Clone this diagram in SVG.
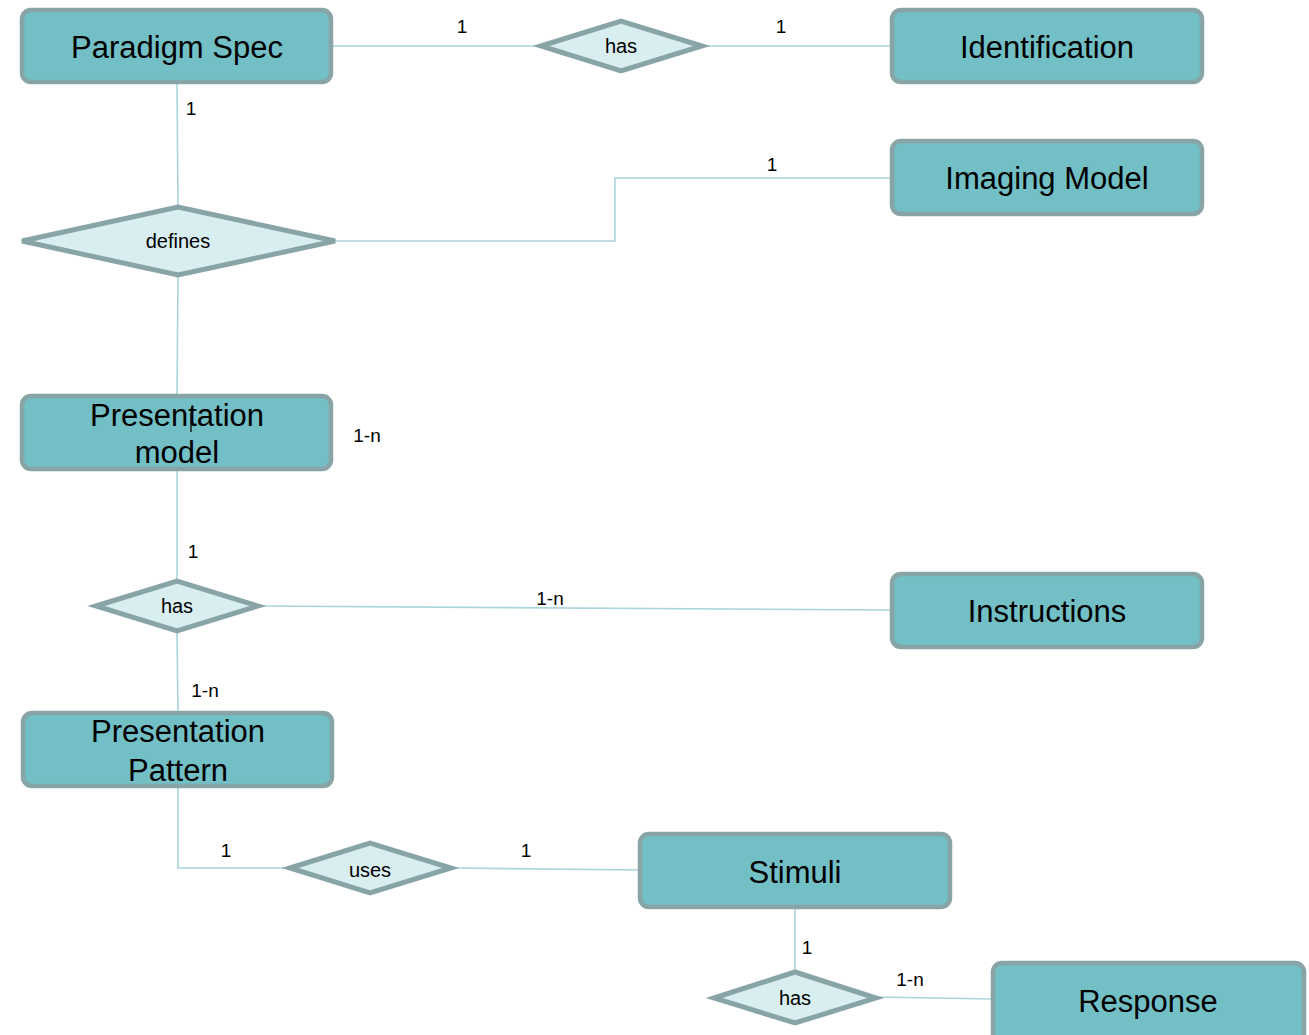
<svg xmlns="http://www.w3.org/2000/svg" width="1309" height="1035" viewBox="0 0 1309 1035">
<style>
.ent{fill:#72bfc5;stroke:#88a4a6;stroke-width:4.5}
.rel{fill:#d9eef0;stroke:#88a4a6;stroke-width:5;stroke-linejoin:miter}
.big{font-family:"Liberation Sans",Arial,sans-serif;font-size:31px;fill:#000;text-anchor:middle}
.sm{font-family:"Liberation Sans",Arial,sans-serif;font-size:20px;fill:#000;text-anchor:middle}
.lbl{font-family:"Liberation Sans",Arial,sans-serif;font-size:19px;fill:#000;text-anchor:middle}
.con{fill:none;stroke:#a9d6db;stroke-width:1.6}
</style>
<rect width="1309" height="1035" fill="#fff"/>
<g id="connectors">
<path class="con" d="M331,46 H540"/>
<path class="con" d="M703,46 H892"/>
<path class="con" d="M177,82 L178,207"/>
<path class="con" d="M335,241 H615 V178 H892"/>
<path class="con" d="M178,277 L177,396"/>
<path class="con" d="M177,469 V582"/>
<path class="con" d="M258,606 L892,610"/>
<path class="con" d="M177,632 L178,713"/>
<path class="con" d="M178,786 V868 H290"/>
<path class="con" d="M451,868 L640,870"/>
<path class="con" d="M795,907 V973"/>
<path class="con" d="M876,997 L993,999"/>
<text class="lbl" x="462" y="33">1</text>
<text class="lbl" x="781" y="33">1</text>
<text class="lbl" x="191" y="115">1</text>
<text class="lbl" x="772" y="171">1</text>
<text class="lbl" x="367" y="442">1-n</text>
<text class="lbl" x="193" y="558">1</text>
<text class="lbl" x="550" y="605">1-n</text>
<text class="lbl" x="205" y="697">1-n</text>
<text class="lbl" x="226" y="857">1</text>
<text class="lbl" x="526" y="857">1</text>
<text class="lbl" x="807" y="954">1</text>
<text class="lbl" x="910" y="986">1-n</text>
</g>
<g id="paradigm-spec">
<rect class="ent" x="22" y="10" width="309" height="72" rx="9"/>
<text class="big" x="177" y="58">Paradigm Spec</text>
</g>
<g id="has-identification">
<polygon class="rel" points="541,46 621,21 702,46 621,71"/>
<text class="sm" x="621" y="53">has</text>
</g>
<g id="identification">
<rect class="ent" x="892" y="10" width="310" height="72" rx="9"/>
<text class="big" x="1047" y="58">Identification</text>
</g>
<g id="imaging-model">
<rect class="ent" x="892" y="141" width="310" height="73" rx="9"/>
<text class="big" x="1047" y="189">Imaging Model</text>
</g>
<g id="defines">
<polygon class="rel" points="22,241 178,207 335,241 178,275"/>
<text class="sm" x="178" y="248">defines</text>
</g>
<g id="presentation-model">
<rect class="ent" x="22" y="396" width="309" height="73" rx="9"/>
<text class="big" x="177" y="426">Presentation</text>
<text class="big" x="177" y="463">model</text>
<path class="con" d="M191,413 V432" stroke="#000" style="stroke:#111;stroke-width:1.4"/>
</g>
<g id="has-instructions">
<polygon class="rel" points="96,606 177,581 258,606 177,631"/>
<text class="sm" x="177" y="613">has</text>
</g>
<g id="instructions">
<rect class="ent" x="892" y="574" width="310" height="73" rx="9"/>
<text class="big" x="1047" y="622">Instructions</text>
</g>
<g id="presentation-pattern">
<rect class="ent" x="23" y="713" width="309" height="73" rx="9"/>
<text class="big" x="178" y="742">Presentation</text>
<text class="big" x="178" y="781">Pattern</text>
</g>
<g id="uses">
<polygon class="rel" points="290,868 370,843 451,868 370,893"/>
<text class="sm" x="370" y="877">uses</text>
</g>
<g id="stimuli">
<rect class="ent" x="640" y="834" width="310" height="73" rx="9"/>
<text class="big" x="795" y="883">Stimuli</text>
</g>
<g id="has-response">
<polygon class="rel" points="714,998 795,972 876,998 795,1023"/>
<text class="sm" x="795" y="1005">has</text>
</g>
<g id="response">
<rect class="ent" x="993" y="963" width="311" height="90" rx="9"/>
<text class="big" x="1148" y="1012">Response</text>
</g>
</svg>
